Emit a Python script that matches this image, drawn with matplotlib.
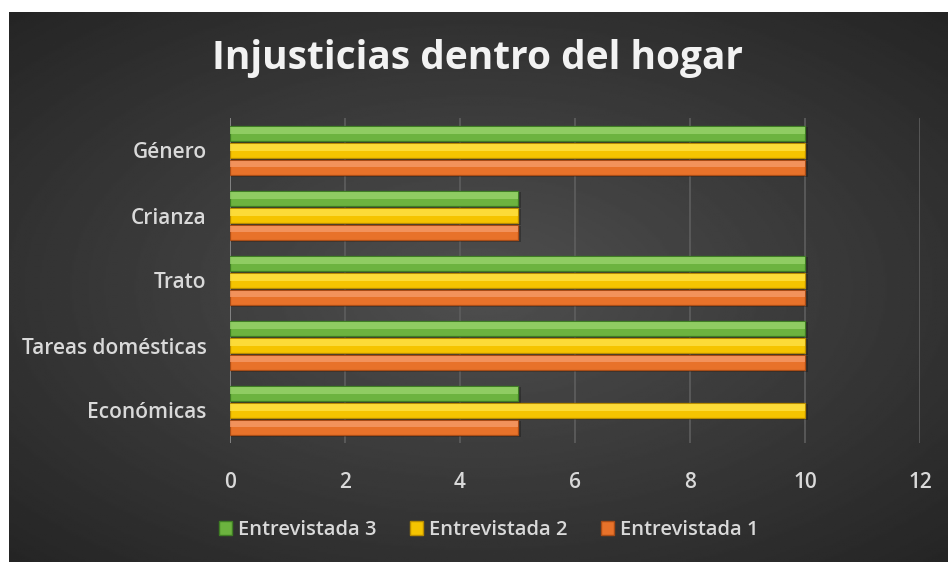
import numpy as np
import matplotlib
matplotlib.use("Agg")
import matplotlib.pyplot as plt
from matplotlib.patches import Patch

# --- data ---
categories = ["Económicas", "Tareas domésticas", "Trato", "Crianza", "Género"]
entrevistada_1 = [5, 10, 10, 5, 10]
entrevistada_2 = [10, 10, 10, 5, 10]
entrevistada_3 = [5, 10, 10, 5, 10]
series_names = ["Entrevistada 1", "Entrevistada 2", "Entrevistada 3"]
x_ticks = [0, 2, 4, 6, 8, 10, 12]

colors = ["#e8722a", "#f5c400", "#6cb33f"]
highlights = ["#f7a070", "#ffe650", "#9ed872"]
shades = ["#a94c16", "#b88c00", "#3f7d24"]

plt.rcParams['font.family'] = ['Open Sans', 'DejaVu Sans']

fig = plt.figure(figsize=(9.48, 5.62), dpi=100)
fig.patch.set_facecolor("white")

# dark radial gradient background (chart area starts a few px in from top/left)
bg = fig.add_axes([9 / 948, 0, 1 - 9 / 948, 1 - 12 / 562])
yy, xx = np.mgrid[-1:1:300j, -1:1:500j]
r = np.sqrt((xx * 0.95) ** 2 + (yy * 1.0) ** 2)
bg.imshow(0.31 - 0.12 * np.clip(r, 0, 1.4), cmap="gray", vmin=0, vmax=1,
          aspect="auto", extent=[0, 1, 0, 1])
bg.axis("off")

ax = fig.add_axes([230 / 948, 1 - 443 / 562, 690 / 948, 325 / 562])
ax.set_facecolor("none")

y = np.arange(len(categories))
h = 0.24
data = [entrevistada_1, entrevistada_2, entrevistada_3]
offsets = [-0.26, 0.0, 0.26]
for vals, off, c, hl, sh in zip(data, offsets, colors, highlights, shades):
    # soft shadow, body, then a top highlight for the bevel look
    ax.barh(y + off - 0.025, [v + 0.06 for v in vals], height=h, color="black", alpha=0.25,
            linewidth=0, zorder=2)
    ax.barh(y + off, vals, height=h, color=c, edgecolor=sh, linewidth=0.9, zorder=3)
    ax.barh(y + off + h * 0.2, vals, height=h * 0.4, color=hl, alpha=0.7, linewidth=0, zorder=4)

ax.set_xlim(0, 12)
ax.set_ylim(-0.5, len(categories) - 0.5)
ax.set_xticks(x_ticks)
ax.set_xticklabels([str(t) for t in x_ticks], fontweight="semibold")
ax.set_yticks(y)
ax.set_yticklabels(categories, fontweight="semibold")
ax.tick_params(axis="both", length=0, colors="#d9d9d9", labelsize=15)
ax.tick_params(axis="x", pad=21)
ax.tick_params(axis="y", pad=17)
ax.xaxis.grid(True, color="#5e5e5e", linewidth=1.2, zorder=0)
ax.yaxis.grid(False)
for s in ax.spines.values():
    s.set_visible(False)
ax.axvline(0, color="#8a8a8a", linewidth=1.2, zorder=2)

fig.text(0.5 + 4 / 948, 1 - 58 / 562, "Injusticias dentro del hogar", ha="center", va="center",
         fontsize=28, fontweight="bold", color="#f2f2f2")

handles = [Patch(facecolor=colors[i], edgecolor=shades[i], label=series_names[i]) for i in [2, 1, 0]]
fig.legend(handles=handles, loc="center", bbox_to_anchor=(489 / 948, 1 - 530 / 562), ncol=3,
           frameon=False, labelcolor="#d9d9d9", handlelength=0.65,
           handleheight=0.65, handletextpad=0.3, columnspacing=1.65,
           prop={"weight": "semibold", "size": 14.5})

fig.savefig("out.png", dpi=100, facecolor=fig.get_facecolor())
